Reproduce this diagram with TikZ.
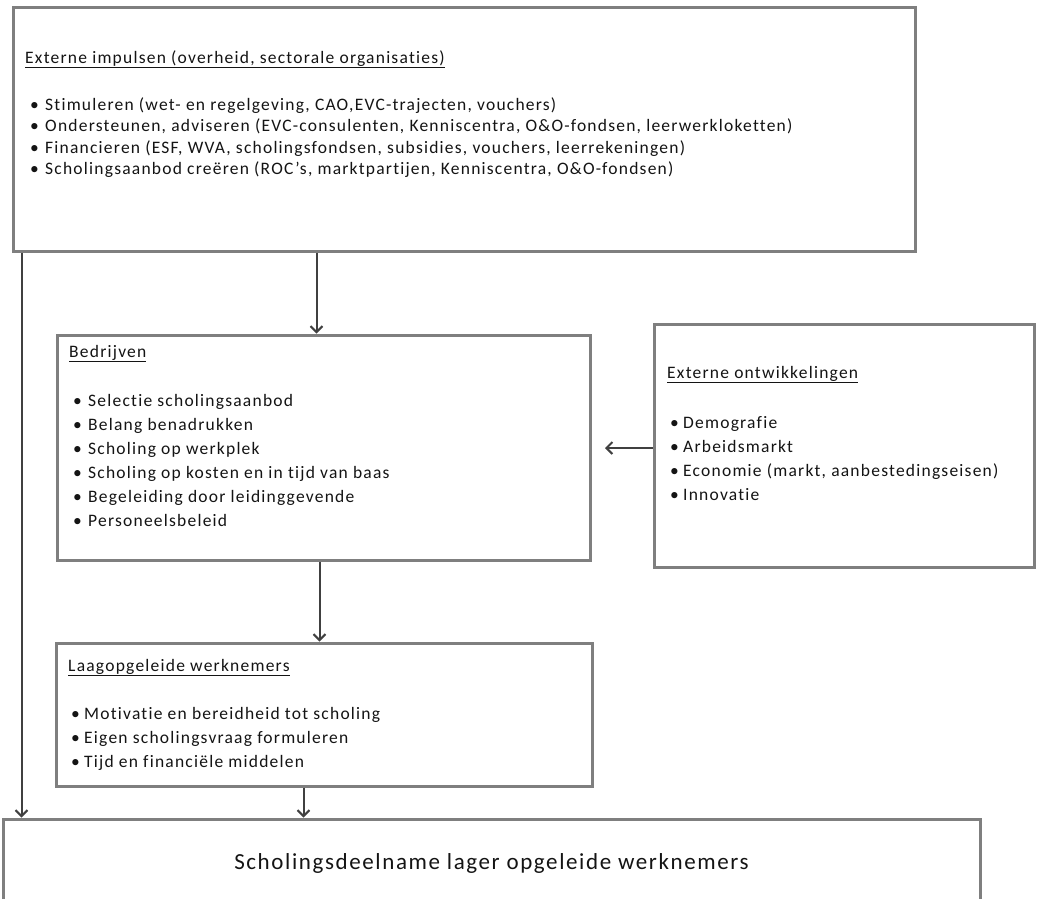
\documentclass[tikz,border=0pt]{standalone}
\usepackage{fontspec}
\setmainfont{Carlito}[LetterSpace=7, Ligatures=NoCommon]
\usetikzlibrary{arrows.meta,calc,shadows}
\definecolor{boxgray}{HTML}{7F7F7F}
\definecolor{arrgray}{HTML}{404040}
\definecolor{txtgray}{HTML}{141414}
\tikzset{
  box/.style={draw=boxgray, fill=white, line width=3pt, inner sep=0pt, rectangle,
    drop shadow={shadow xshift=1.5pt, shadow yshift=-1.5pt, fill=black!25, opacity=1}},
  txt/.style={inner sep=0pt, anchor=base west, text=txtgray, font=\fontsize{17.5}{20}\selectfont},
  bigtxt/.style={inner sep=0pt, anchor=base, text=txtgray, font=\fontsize{23}{26}\selectfont},
  arr/.style={draw=arrgray, line width=2pt, -{Straight Barb[length=6pt,width=12pt]}}
}
\newcommand{\bul}[2]{\makebox[#1][l]{\textbullet}#2}
\begin{document}
\begin{tikzpicture}[x=1pt,y=-1pt]
\useasboundingbox (0,0) rectangle (1039,898);
% boxes
\node[box, minimum width=902pt, minimum height=244pt] (top) at (464,129) {};
\node[box, minimum width=533pt, minimum height=225pt] (bed) at (323.5,447.5) {};
\node[box, minimum width=380pt, minimum height=243pt] (ext) at (844,445.5) {};
\node[box, minimum width=536pt, minimum height=143pt] (laag) at (324,714.5) {};
\node[box, minimum width=977pt, minimum height=82pt] (bot) at (491.5,860) {};
% top texts
\node[txt] (th) at (25,63) {\underline{Externe impulsen (overheid, sectorale organisaties)}};
\foreach \t [count=\i] in {
  {Stimuleren (wet- en regelgeving, CAO,EVC-trajecten, vouchers)},
  {Ondersteunen, adviseren (EVC-consulenten, Kenniscentra, O\&O-fondsen, leerwerkloketten)},
  {Financieren (ESF, WVA, scholingsfondsen, subsidies, vouchers, leerrekeningen)},
  {Scholingsaanbod creëren (ROC’s, marktpartijen, Kenniscentra, O\&O-fondsen)}}
  \node[txt] (tb\i) at (30,{110+21.5*(\i-1)}) {\bul{15pt}{\t}};
% bedrijven
\node[txt] (bh) at (69,357) {\underline{Bedrijven}};
\foreach \t [count=\i] in {
  {Selectie scholingsaanbod},
  {Belang benadrukken},
  {Scholing op werkplek},
  {Scholing op kosten en in tijd van baas},
  {Begeleiding door leidinggevende},
  {Personeelsbeleid}}
  \node[txt] (bb\i) at (73,{406+24*(\i-1)}) {\bul{15pt}{\t}};
% externe ontwikkelingen
\node[txt] (eh) at (667,378) {\underline{Externe ontwikkelingen}};
\foreach \t [count=\i] in {
  {Demografie},
  {Arbeidsmarkt},
  {Economie (markt, aanbestedingseisen)},
  {Innovatie}}
  \node[txt] (eb\i) at (670,{428+24.3*(\i-1)}) {\bul{13pt}{\t}};
% laagopgeleide werknemers
\node[txt] (lh) at (68,671) {\underline{Laagopgeleide werknemers}};
\foreach \t [count=\i] in {
  {Motivatie en bereidheid tot scholing},
  {Eigen scholingsvraag formuleren},
  {Tijd en financiële middelen}}
  \node[txt] (lb\i) at (71,{719+24*(\i-1)}) {\bul{13pt}{\t}};
% bottom
\node[bigtxt] (bt) at (491.5,869) {Scholingsdeelname lager opgeleide werknemers};
% connectors
\draw[arr] ($(top.south west)+(10,0)$) -- ($(bot.north west)+(20,0)$);
\draw[arr] ($(top.south west)+(305,0)$) -- ($(bed.north west)+(261,0)$);
\draw[arr] ($(bed.south west)+(264,0)$) -- ($(laag.north west)+(265,0)$);
\draw[arr] ($(laag.south west)+(249,0)$) -- ($(bot.north west)+(302,0)$);
\coordinate (extend) at (605,448);
\draw[arr] ($(ext.west)+(0,2.5)$) -- (extend);
\end{tikzpicture}
\end{document}
